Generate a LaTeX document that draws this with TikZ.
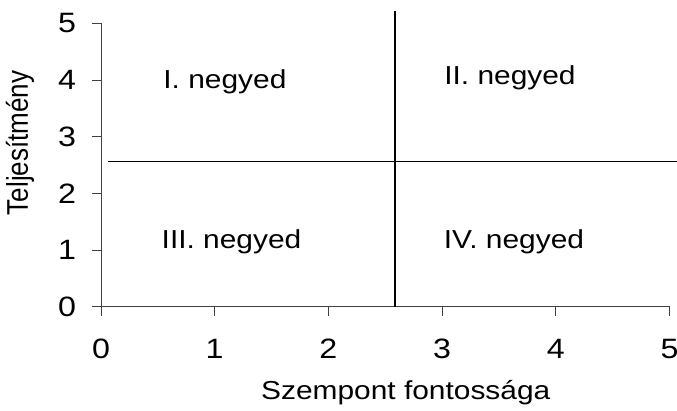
\documentclass[tikz,border=0pt]{standalone}
\usepackage{fontspec}
\setmainfont{Liberation Sans}
\newcommand{\hstretch}[1]{\scalebox{1.15}[1]{#1}}
\newcommand{\vstretch}[1]{\scalebox{1}[1.15]{#1}}
\begin{document}
\begin{tikzpicture}[x=113.7pt,y=56.65pt,
  axisline/.style={draw=black!75,line width=0.9pt},
  quadline/.style={draw=black,line width=1.2pt},
  ticklab/.style={font=\fontsize{28}{32}\selectfont,inner sep=0pt},
  quadlab/.style={font=\fontsize{26}{30}\selectfont,inner sep=0pt},
  titlelab/.style={font=\fontsize{26}{30}\selectfont,inner sep=0pt}]
\useasboundingbox (-101pt,-103.3pt) rectangle (576pt,306.7pt);
% axes
\coordinate (o) at (0,0);
\coordinate (ytop) at (0,5);
\coordinate (xend) at (5,0);
\draw[axisline] ([yshift=-9pt]o) -- (ytop);
\draw[axisline] ([xshift=-9pt]o) -- (xend);
\foreach \i in {0,...,5}{
  \draw[axisline] (0,\i) -- ++(-9pt,0);
  \draw[axisline] (\i,0) -- ++(0,-9pt);
  \node[ticklab] (yl\i) at ([xshift=-34pt]0,\i) {\hstretch{\i}};
  \node[ticklab] (xl\i) at ([yshift=-42pt]\i,0) {\hstretch{\i}};
}
% quadrant lines
\coordinate (vb) at (2.586,0);
\coordinate (vt) at (2.586,5.22);
\coordinate (hl) at (0.06,2.567);
\coordinate (hr) at (5.07,2.567);
\draw[quadline] (vb) -- (vt);
\draw[quadline] (hl) -- (hr);
% labels
\node[quadlab] (q1) at (1.09,3.97) {\hstretch{I. negyed}};
\node[quadlab] (q2) at (3.597,4.04) {\hstretch{II. negyed}};
\node[quadlab] (q3) at (1.148,1.142) {\hstretch{III. negyed}};
\node[quadlab] (q4) at (3.632,1.142) {\hstretch{IV. negyed}};
\node[titlelab,rotate=90] (yt) at ([xshift=-81pt]0,2.89) {\vstretch{Teljesítmény}};
\node[titlelab] (xt) at ([yshift=-86.3pt]2.68,0) {\hstretch{Szempont fontossága}};
\end{tikzpicture}
\end{document}
